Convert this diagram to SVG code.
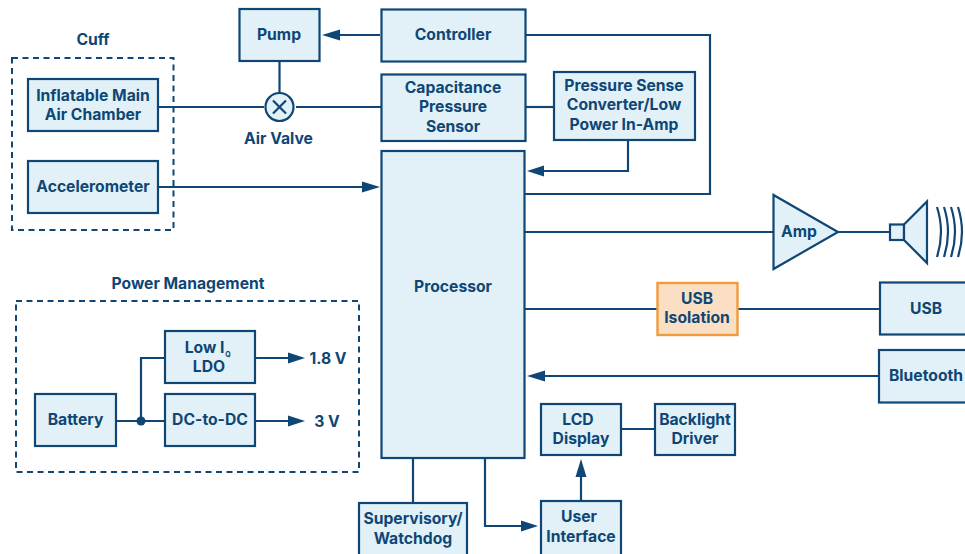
<svg xmlns="http://www.w3.org/2000/svg" width="965" height="554" viewBox="0 0 965 554">
<style>
.b{fill:#e1f1f7;stroke:#0f4675;stroke-width:2.200}
.c{fill:none;stroke:#0f4675;stroke-width:2.200}
.d{fill:none;stroke:#0f4675;stroke-width:2;stroke-dasharray:6 4.500}
.a{fill:#0f4675;stroke:none}
text{font-family:"Inter","Liberation Sans",sans-serif;font-weight:700;font-size:15.700px;fill:#0f4675;text-anchor:middle}
</style>
<rect width="965" height="554" fill="#fff"/>
<g id="connectors">
<path class="c" d="M525 35H710V194H525"/>
<path class="c" d="M380 35H335"/>
<path class="c" d="M279.500 61V95"/>
<path class="c" d="M159 107H264M296 107H381"/>
<path class="c" d="M525 107H554"/>
<path class="c" d="M628 141V171H540"/>
<path class="c" d="M159 187H367"/>
<path class="c" d="M525 232H773"/>
<path class="c" d="M838 232H890"/>
<path class="c" d="M525 309H657M738 309H880"/>
<path class="c" d="M880 376H540"/>
<path class="c" d="M622 429H655"/>
<path class="c" d="M581 500V472"/>
<path class="c" d="M413 458V502"/>
<path class="c" d="M485 458V526H524"/>
<path class="c" d="M116 421H165M141 421V358H165"/>
<path class="c" d="M255 358H290M255 421H290"/>
<path class="a" d="M322 35L340 29.500V40.500Z"/>
<path class="a" d="M380 187L362 181.500V192.500Z"/>
<path class="a" d="M527 171L544 165.500V176.500Z"/>
<path class="a" d="M527 376L545 370.500V381.500Z"/>
<path class="a" d="M538 526L521 520.500V531.500Z"/>
<path class="a" d="M581 459L575.500 477H586.500Z"/>
<path class="a" d="M305 358L288 352.500V363.500Z"/>
<path class="a" d="M305 421L288 415.500V426.500Z"/>
<circle class="a" cx="141" cy="421" r="4.500"/>
</g>
<g id="cuff">
<rect class="d" x="12" y="58" width="161.500" height="172"/>
<text x="93" y="45">Cuff</text>
</g>
<g id="power-management">
<rect class="d" x="16" y="301" width="343" height="171"/>
<text x="188" y="289">Power Management</text>
</g>
<g id="pump"><rect class="b" x="239.500" y="9" width="80" height="52"/><text x="279" y="40">Pump</text></g>
<g id="controller"><rect class="b" x="381.500" y="9.500" width="144" height="52"/><text x="453" y="40">Controller</text></g>
<g id="air-chamber"><rect class="b" x="28" y="79" width="130" height="52"/><text x="93" y="101">Inflatable Main</text><text x="93" y="120">Air Chamber</text></g>
<g id="accelerometer"><rect class="b" x="28" y="161" width="130" height="52"/><text x="93" y="192">Accelerometer</text></g>
<g id="air-valve">
<circle cx="279.500" cy="107" r="14" fill="#e1f1f7" stroke="#0f4675" stroke-width="2.200"/>
<path class="c" d="M273 100.500L286 113.500M286 100.500L273 113.500"/>
<text x="278.500" y="144">Air Valve</text>
</g>
<g id="capacitance"><rect class="b" x="381.500" y="74.500" width="144" height="66.500"/><text x="453" y="93">Capacitance</text><text x="453" y="112">Pressure</text><text x="453" y="132">Sensor</text></g>
<g id="converter"><rect class="b" x="554" y="72" width="141" height="68"/><text x="624" y="91">Pressure Sense</text><text x="624" y="110">Converter/Low</text><text x="624" y="130">Power In-Amp</text></g>
<g id="processor"><rect class="b" x="381.500" y="151" width="143" height="307"/><text x="453" y="292">Processor</text></g>
<g id="amp"><path class="b" d="M773.500 195V269L838 232Z"/><text x="799" y="237">Amp</text></g>
<g id="speaker">
<rect class="b" x="890" y="224.500" width="14" height="15.500"/>
<path class="b" d="M904 224.500L927 201.500V263L904 240Z"/>
<path class="c" d="M937 207Q945 232 937 257M944 207Q952 232 944 257M951 207Q959 232 951 257M958 207Q966 232 958 257"/>
</g>
<g id="usb-isolation"><rect x="657.500" y="283" width="80" height="52" fill="#fbdfc4" stroke="#f09a3e" stroke-width="2.400"/><text x="697" y="304">USB</text><text x="697" y="323">Isolation</text></g>
<g id="usb"><rect class="b" x="880" y="282.500" width="90" height="52"/><text x="926" y="314">USB</text></g>
<g id="bluetooth"><rect class="b" x="879" y="350" width="90" height="52.500"/><text x="926" y="381">Bluetooth</text></g>
<g id="battery"><rect class="b" x="35" y="394" width="81" height="52"/><text x="75.500" y="425">Battery</text></g>
<g id="ldo"><rect class="b" x="165" y="331" width="90" height="52"/><text x="204.500" y="353">Low I</text><text x="228" y="357" style="font-size:7px">Q</text><text x="209" y="372">LDO</text></g>
<g id="dcdc"><rect class="b" x="165" y="394" width="90" height="52"/><text x="210" y="425">DC-to-DC</text></g>
<g id="v18"><text x="328" y="364">1.8 V</text></g>
<g id="v3"><text x="327" y="427">3 V</text></g>
<g id="lcd"><rect class="b" x="541" y="404" width="80" height="51"/><text x="578" y="425">LCD</text><text x="581" y="444">Display</text></g>
<g id="backlight"><rect class="b" x="655" y="404" width="80" height="51"/><text x="695" y="425">Backlight</text><text x="695" y="444">Driver</text></g>
<g id="supervisory"><rect class="b" x="359" y="503" width="108" height="60"/><text x="413" y="524">Supervisory/</text><text x="413" y="544">Watchdog</text></g>
<g id="user-interface"><rect class="b" x="541" y="501" width="80" height="62"/><text x="579" y="522">User</text><text x="581" y="542">Interface</text></g>
</svg>
